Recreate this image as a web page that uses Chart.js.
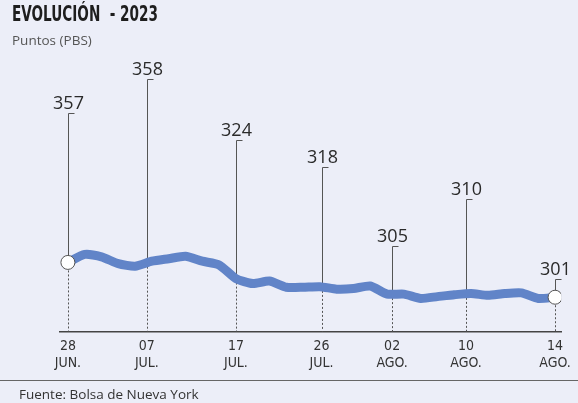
<!DOCTYPE html>
<html>
<head>
<meta charset="utf-8">
<script src="https://cdn.jsdelivr.net/npm/chart.js@4"></script>
<style>
  body { margin: 0; background: #eceef8; }
  #wrap { position: relative; width: 578px; height: 403px; background: #eceef8; overflow: hidden; }
  #box { position: absolute; left: 0; top: 0; width: 578px; height: 403px; }
  .title { position: absolute; left: 12px; top: 2px; font: bold 21px "DejaVu Sans Condensed", sans-serif; color: #1e1e1e; transform: scaleX(0.72); transform-origin: left top; white-space: nowrap; }
  .sub { position: absolute; left: 12px; top: 31px; font: 13.5px "Open Sans", sans-serif; color: #555; }
  .foot { position: absolute; left: 0; top: 380px; width: 578px; border-top: 1.5px solid #666; font: 13.5px "Open Sans", sans-serif; color: #333; padding: 4px 0 0 19px; box-sizing: border-box; }
</style>
</head>
<body>
<div id="wrap">
  <div id="box"><canvas id="evolucion"></canvas></div>
  <div class="title">EVOLUCIÓN&nbsp; - 2023</div>
  <div class="sub">Puntos (PBS)</div>
  <div class="foot">Fuente: Bolsa de Nueva York</div>
</div>
<script>
// serie diaria
const puntos = [357, 370, 366, 355, 351, 359, 363, 367, 359, 353, 331, 323, 327, 317, 317,
                318, 314, 315, 319, 306, 306, 299, 302, 305, 307, 304, 307, 308, 299, 301];
// fechas del eje x y su posición en la serie
const fechas = [['28', 'JUN.'], ['07', 'JUL.'], ['17', 'JUL.'], ['26', 'JUL.'], ['02', 'AGO.'], ['10', 'AGO.'], ['14', 'AGO.']];
const posFechas = [0, 4.7, 10, 15.1, 19.3, 23.7, 29];
// valores destacados en cada fecha
const destacados = [357, 358, 324, 318, 305, 310, 301];

const LINEA = '#6184c8';
const GRIS = '#555';

function valorEn(t) {
  const a = Math.floor(t), b = Math.min(Math.ceil(t), puntos.length - 1);
  return puntos[a] + (puntos[b] - puntos[a]) * (t - a);
}

const callouts = {
  id: 'callouts',
  beforeDatasetsDraw(chart, args, opts) {
    const { ctx, chartArea, scales: { x, y } } = chart;
    ctx.save();
    ctx.strokeStyle = GRIS;
    ctx.lineWidth = 1;
    posFechas.forEach((t, i) => {
      const px = Math.round(x.getPixelForValue(t)) + 0.5;
      const py = y.getPixelForValue(valorEn(t));
      const top = Math.round(y.getPixelForValue(opts.niveles[i])) + 0.5;
      // punteada hasta el eje
      ctx.setLineDash([2, 2]);
      ctx.beginPath();
      ctx.moveTo(px, py);
      ctx.lineTo(px, chartArea.bottom);
      ctx.stroke();
      // línea de la etiqueta
      ctx.setLineDash([]);
      ctx.beginPath();
      ctx.moveTo(px + 6, top);
      ctx.lineTo(px, top);
      ctx.lineTo(px, py);
      ctx.stroke();
      ctx.fillStyle = '#2a2a2a';
      ctx.font = '18px "Open Sans", sans-serif';
      ctx.textAlign = 'center';
      ctx.textBaseline = 'alphabetic';
      ctx.fillText(String(destacados[i]), px, top - 5);
    });
    ctx.restore();
  }
};

const ultimo = puntos.length - 1;

new Chart(document.getElementById('evolucion'), {
  type: 'line',
  data: {
    datasets: [{
      data: puntos.map((v, i) => ({ x: i, y: v })),
      borderColor: LINEA,
      borderWidth: 9,
      borderJoinStyle: 'round',
      borderCapStyle: 'round',
      tension: 0.2,
      pointRadius: ctx => (ctx.dataIndex === 0 || ctx.dataIndex === ultimo) ? 7 : 0,
      pointBackgroundColor: '#fff',
      pointBorderColor: GRIS,
      pointBorderWidth: 1
    }]
  },
  options: {
    responsive: true,
    maintainAspectRatio: false,
    animation: false,
    layout: {
      padding: { top: 58, left: 60, right: 15, bottom: 24 }
    },
    scales: {
      x: {
        type: 'linear',
        min: -0.47,
        max: 29.36,
        grid: { display: false, drawTicks: false },
        border: { display: true, color: '#444', width: 1.5 },
        afterBuildTicks: scale => { scale.ticks = posFechas.map(v => ({ value: v })); },
        ticks: {
          autoSkip: false,
          maxRotation: 0,
          padding: 7,
          color: '#333',
          font: { family: '"DejaVu Sans Condensed", sans-serif', size: 14, lineHeight: 1.2 },
          callback: (v, i) => fechas[i]
        }
      },
      y: {
        display: false,
        min: 246,
        max: 686
      }
    },
    plugins: {
      legend: { display: false },
      tooltip: { enabled: false },
      callouts: { niveles: [597, 653, 554, 511, 383, 459, 331] }
    }
  },
  plugins: [callouts]
});
</script>
</body>
</html>
